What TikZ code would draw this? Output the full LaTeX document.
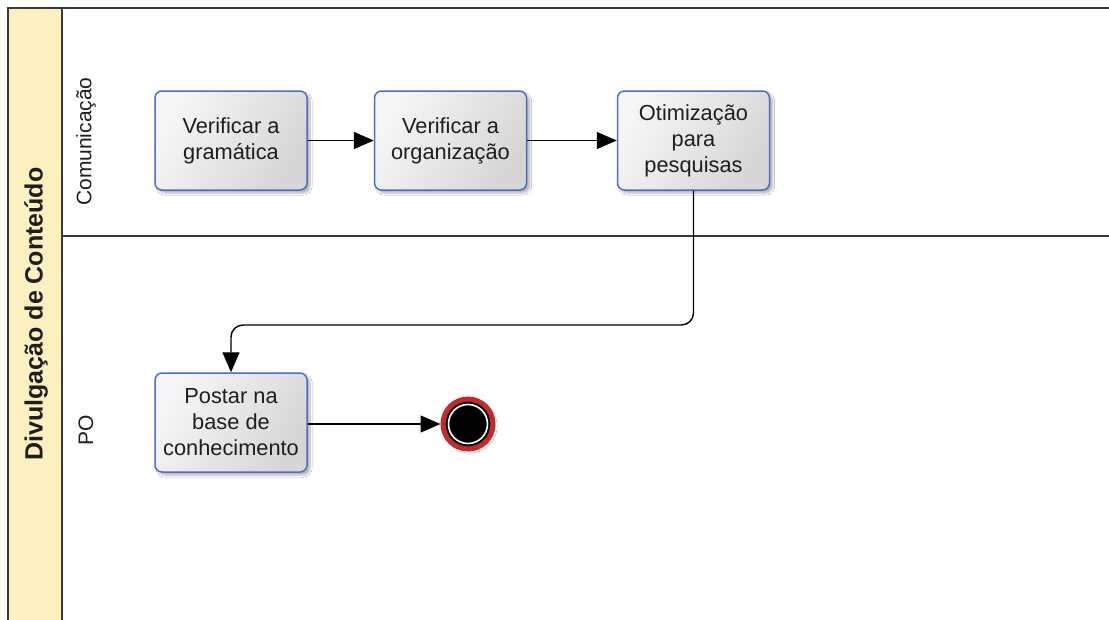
\documentclass[tikz,border=0pt]{standalone}
\usepackage{fontspec}
\setmainfont{Liberation Sans}
\usetikzlibrary{arrows.meta,shadows.blur}
\definecolor{poolline}{HTML}{3A3A3A}
\definecolor{poolhead}{HTML}{FDF0C0}
\definecolor{taskborder}{HTML}{4A6FC4}
\definecolor{taskhi}{HTML}{F6F6F6}
\definecolor{tasklo}{HTML}{D6D6D6}
\definecolor{endred}{HTML}{C42A2C}
\definecolor{tasktext}{HTML}{1E1E1E}
\tikzset{
  pool/.style={draw=poolline, line width=2.2pt},
  task/.style={draw=taskborder, line width=1.5pt, rounded corners=7pt,
    left color=taskhi, right color=tasklo, shading angle=60,
    minimum width=152pt, minimum height=99pt, inner sep=2pt,
    align=center, text=tasktext, font=\fontsize{21.8}{26}\selectfont,
    blur shadow={shadow xshift=3pt, shadow yshift=-3pt, shadow blur steps=6,
      shadow opacity=30}},
  flow/.style={draw=black, line width=1.4pt,
    -{Triangle[length=20pt,width=17pt]}},
  lanelabel/.style={rotate=90, font=\fontsize{21}{25}\selectfont, text=tasktext},
  endevent/.style={circle, fill=black, draw=endred, line width=5pt,
    minimum size=50pt, inner sep=0pt,
    blur shadow={shadow xshift=2pt, shadow yshift=-2pt, shadow blur steps=5,
      shadow opacity=30}},
}
\begin{document}
\begin{tikzpicture}[x=1pt,y=-1pt]
\useasboundingbox (0,0) rectangle (1109,619);
\fill[white] (0,0) rectangle (1109,619);

% pool header band and lane frame
\fill[poolhead] (8,8) rectangle (62,625);
\draw[pool] (8,625) -- (8,8) -- (1115,8);
\draw[pool] (62,8) -- (62,625);
\draw[pool] (62,236) -- (1115,236);

\node[rotate=90, font=\bfseries\fontsize{25}{30}\selectfont, text=tasktext] (pooltitle) at (36,314) {Divulgação de Conteúdo};
\node[lanelabel] (lane1) at (86,141.5) {Comunicação};
\node[lanelabel] (lane2) at (86,430) {PO};

% tasks
\node[task] (t1) at (231,140.5) {Verificar a\\gramática};
\node[task] (t2) at (450.5,140.5) {Verificar a\\organização};
\node[task] (t3) at (693.5,140.5) {Otimização\\para\\pesquisas};
\node[task] (t4) at (231,422.5) {Postar na\\base de\\conhecimento};

% end event
\node[endevent] (end) at (468,424) {};
\draw[white, line width=1.6pt] (end.center) circle (19.5pt);

% sequence flows
\coordinate (turn) at (0,325);
\draw[flow] (t1.east) -- (t2.west);
\draw[flow] (t2.east) -- (t3.west);
\draw[flow, rounded corners=12pt] (t3.south) -- (t3.south |- turn) -- (t4.north |- turn) -- (t4.north);
\draw[flow] (t4.east |- end.west) -- (end.west);
\end{tikzpicture}
\end{document}
